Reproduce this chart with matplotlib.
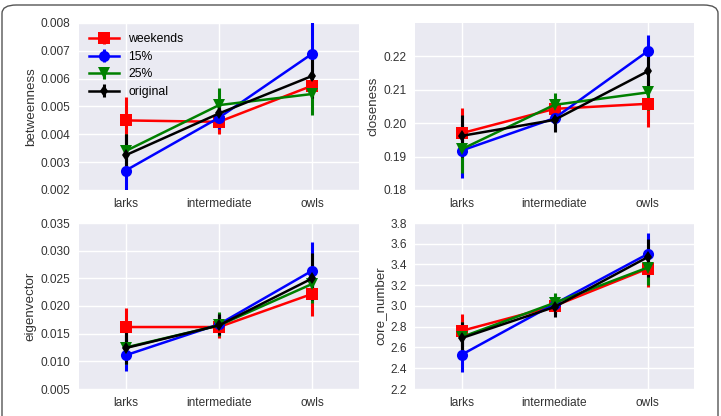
import numpy as np
import matplotlib
matplotlib.use("Agg")
import matplotlib.pyplot as plt
from matplotlib.patches import FancyBboxPatch

categories = ["larks", "intermediate", "owls"]
series = ["weekends", "15%", "25%", "original"]
colors = {"weekends": "red", "15%": "blue", "25%": "green", "original": "black"}
markers = {"weekends": "s", "15%": "o", "25%": "v", "original": "d"}

# mean, lower, upper for each metric / series
betweenness_mean = {
    "weekends": [0.0045, 0.00445, 0.00575],
    "15%": [0.0027, 0.0046, 0.0069],
    "25%": [0.0034, 0.00505, 0.00545],
    "original": [0.00325, 0.00475, 0.0061],
}
betweenness_lo = {
    "weekends": [0.0037, 0.0040, 0.0053],
    "15%": [0.0019, 0.0042, 0.0058],
    "25%": [0.0027, 0.0045, 0.0047],
    "original": [0.0025, 0.0043, 0.0053],
}
betweenness_hi = {
    "weekends": [0.00535, 0.0049, 0.0062],
    "15%": [0.0035, 0.0050, 0.0081],
    "25%": [0.0040, 0.00565, 0.0062],
    "original": [0.0040, 0.0052, 0.0069],
}

closeness_mean = {
    "weekends": [0.197, 0.2043, 0.2058],
    "15%": [0.1918, 0.2015, 0.2215],
    "25%": [0.1922, 0.2055, 0.2092],
    "original": [0.1962, 0.2010, 0.2155],
}
closeness_lo = {
    "weekends": [0.1895, 0.2010, 0.1990],
    "15%": [0.1835, 0.1980, 0.2165],
    "25%": [0.1850, 0.2020, 0.2040],
    "original": [0.1900, 0.1973, 0.2090],
}
closeness_hi = {
    "weekends": [0.2045, 0.2075, 0.2125],
    "15%": [0.2000, 0.2050, 0.2265],
    "25%": [0.1990, 0.2090, 0.2140],
    "original": [0.2025, 0.2047, 0.2220],
}

eigenvector_mean = {
    "weekends": [0.0162, 0.0162, 0.0222],
    "15%": [0.0111, 0.0167, 0.0264],
    "25%": [0.0125, 0.0165, 0.0240],
    "original": [0.0124, 0.0165, 0.0250],
}
eigenvector_lo = {
    "weekends": [0.0128, 0.0142, 0.0182],
    "15%": [0.0082, 0.0148, 0.0212],
    "25%": [0.0095, 0.0145, 0.0205],
    "original": [0.0095, 0.0148, 0.0210],
}
eigenvector_hi = {
    "weekends": [0.0196, 0.0182, 0.0262],
    "15%": [0.0140, 0.0186, 0.0316],
    "25%": [0.0155, 0.0190, 0.0275],
    "original": [0.0155, 0.0185, 0.0295],
}

core_mean = {
    "weekends": [2.76, 3.00, 3.36],
    "15%": [2.53, 3.02, 3.50],
    "25%": [2.70, 3.03, 3.37],
    "original": [2.69, 2.99, 3.47],
}
core_lo = {
    "weekends": [2.60, 2.92, 3.18],
    "15%": [2.36, 2.93, 3.30],
    "25%": [2.55, 2.94, 3.20],
    "original": [2.53, 2.89, 3.28],
}
core_hi = {
    "weekends": [2.92, 3.08, 3.55],
    "15%": [2.70, 3.11, 3.70],
    "25%": [2.85, 3.13, 3.55],
    "original": [2.85, 3.09, 3.65],
}

panels = [
    ("betweenness", betweenness_mean, betweenness_lo, betweenness_hi,
     (0.002, 0.008), np.arange(0.002, 0.0081, 0.001), "{:.3f}"),
    ("closeness", closeness_mean, closeness_lo, closeness_hi,
     (0.18, 0.23), np.arange(0.18, 0.2201, 0.01), "{:.2f}"),
    ("eigenvector", eigenvector_mean, eigenvector_lo, eigenvector_hi,
     (0.005, 0.035), np.arange(0.005, 0.0351, 0.005), "{:.3f}"),
    ("core_number", core_mean, core_lo, core_hi,
     (2.2, 3.8), np.arange(2.2, 3.81, 0.2), "{:.1f}"),
]

plt.rcParams["font.family"] = ["Liberation Sans", "DejaVu Sans"]
plt.rcParams["font.size"] = 8.6

W, H = 721, 416
fig = plt.figure(figsize=(W / 100, H / 100), dpi=100)

# axes boxes in pixels: left, top, right, bottom
boxes = [(79, 23, 359, 190), (415, 23, 694, 190),
         (79, 223, 359, 389), (415, 223, 694, 389)]

x = np.arange(len(categories))
tick_color = "#333333"

for (name, mean, lo, hi, ylim, yticks, fmt), (l, t, r, b) in zip(panels, boxes):
  ax = fig.add_axes([l / W, 1 - b / H, (r - l) / W, (b - t) / H])
  ax.set_facecolor("#EAEAF2")
  for s in ax.spines.values():
    s.set_visible(False)
  ax.grid(True, color="white", linewidth=1.0)
  ax.set_axisbelow(True)
  for key in series:
    m = np.array(mean[key])
    yerr = np.vstack([m - np.array(lo[key]), np.array(hi[key]) - m])
    ax.errorbar(x, m, yerr=yerr, color=colors[key], marker=markers[key],
                markersize=8 if key != "original" else 6.5,
                linewidth=1.8, elinewidth=2.2, capsize=0,
                markeredgewidth=0, label=key)
  ax.set_xlim(-0.5, 2.5)
  ax.set_ylim(*ylim)
  ax.set_xticks(x)
  ax.set_xticklabels(categories)
  ax.set_yticks(yticks)
  ax.set_yticklabels([fmt.format(v) for v in yticks])
  ax.tick_params(length=0, pad=6, colors=tick_color, labelsize=8.6)
  ax.set_ylabel(name, color=tick_color, fontsize=9.6, labelpad=3)
  if name == "betweenness":
    ax.legend(loc="upper left", frameon=False, fontsize=8.8,
              handlelength=2.4, handletextpad=0.8, labelspacing=0.45,
              borderaxespad=0.45, borderpad=0.4)

# rounded border around the figure
frame = FancyBboxPatch((2 / W, -0.05), (716 / W), 1 - 5 / H + 0.05,
                       boxstyle="round,pad=0,rounding_size=0.02",
                       transform=fig.transFigure, fill=False,
                       edgecolor="#555555", linewidth=1.0, clip_on=False)
fig.patches.append(frame)

fig.savefig("out.png", dpi=100)
